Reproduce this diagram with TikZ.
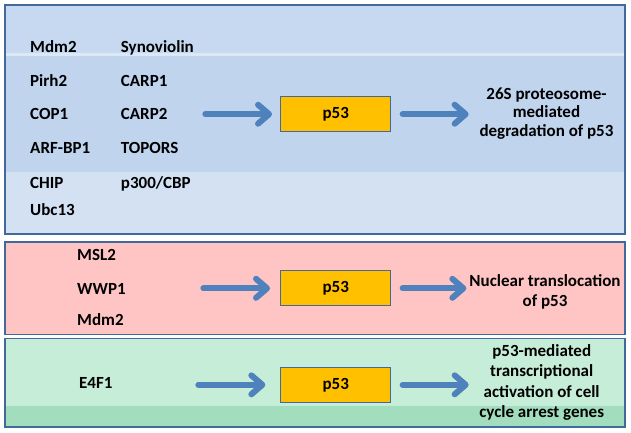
\documentclass[tikz,border=0pt]{standalone}
\usepackage{fontspec}
\setmainfont{Carlito}
\usetikzlibrary{arrows.meta}
\definecolor{frame}{HTML}{41699C}
\definecolor{arrowblue}{HTML}{4F81BD}
\definecolor{boxgold}{HTML}{FFC000}
\definecolor{blueA}{HTML}{C6D9F1}
\definecolor{blueB}{HTML}{C0D4EE}
\definecolor{blueC}{HTML}{D3E1F3}
\definecolor{blueL}{HTML}{DDE8F6}
\definecolor{pinkA}{HTML}{FFC4C4}
\definecolor{greenA}{HTML}{C6EDD7}
\definecolor{greenB}{HTML}{A2DDBD}

\begin{document}
\begin{tikzpicture}[x=1pt,y=-1pt,
    font=\fontsize{17}{20}\selectfont\bfseries,
    panel/.style={draw=frame,line width=1.5pt},
    pbox/.style={draw=frame,line width=1.3pt,fill=boxgold,minimum width=110pt,minimum height=35pt,inner sep=0pt},
    lbl/.style={anchor=west,inner sep=0pt,text height=11pt,text depth=0pt},
    outcome/.style={align=center,inner sep=0pt},
    arr/.style={draw=arrowblue,line width=6pt,line cap=round,-{Straight Barb[length=11pt,width=19pt,round]}}]
  \useasboundingbox (0,0) rectangle (631,432);

  % degradation panel
  \fill[blueA] (5,5) rectangle (625,53);
  \fill[blueL] (5,53) rectangle (625,55.5);
  \fill[blueB] (5,55.5) rectangle (625,172);
  \fill[blueC] (5,172) rectangle (625,234);
  \draw[panel] (5,5) rectangle (625,234);

  \node[lbl] (mdm)   at (30,46.7)  {Mdm2};
  \node[lbl] (pirh)  at (30,80.7)  {Pirh2};
  \node[lbl] (cop)   at (30,114)   {COP1};
  \node[lbl] (arfbp) at (30,148.3) {ARF-BP1};
  \node[lbl] (chip)  at (30,182.7) {CHIP};
  \node[lbl] (ubc)   at (30,210)   {Ubc13};
  \node[lbl] (syn)   at (120.7,46.7)  {Synoviolin};
  \node[lbl] (carpa) at (120.7,80.7)  {CARP1};
  \node[lbl] (carpb) at (120.7,114)   {CARP2};
  \node[lbl] (topo)  at (120.7,148.3) {TOPORS};
  \node[lbl] (cbp)   at (120.7,182.7) {p300/CBP};

  \node[pbox] (pdeg) at (335.7,114.2) {p53};
  \node[outcome,font=\fontsize{17}{18.5}\selectfont\bfseries] (deg) at (546.5,113.5)
    {26S proteosome-\\mediated\\degradation of p53};
  \draw[arr] ([xshift=-74.7pt]pdeg.west) -- ([xshift=-8pt]pdeg.west);
  \draw[arr] ([xshift=11.3pt]pdeg.east) -- ([xshift=77.3pt]pdeg.east);

  % translocation panel
  \fill[pinkA] (5,242) rectangle (625,334.5);
  \draw[panel] (5,242) rectangle (625,334.5);

  \node[lbl] (msl)  at (77,255) {MSL2};
  \node[lbl] (wwp)  at (77,289) {WWP1};
  \node[lbl] (mdmb) at (77,320) {Mdm2};

  \node[pbox] (ptrans) at (335.7,288.3) {p53};
  \node[outcome] (trans) at (545,292) {Nuclear translocation\\of p53};
  \draw[arr] ([xshift=-76.7pt]ptrans.west) -- ([xshift=-10pt]ptrans.west);
  \draw[arr] ([xshift=11.3pt]ptrans.east) -- ([xshift=75pt]ptrans.east);

  % activation panel
  \fill[greenA] (5,338.5) rectangle (625,406);
  \fill[greenB] (5,406) rectangle (625,427);
  \draw[panel] (5,338.5) rectangle (625,427);

  \node[lbl] (efo) at (79,383.3) {E4F1};

  \node[pbox] (pact) at (335.7,384.8) {p53};
  \node[outcome,font=\fontsize{17}{20.5}\selectfont\bfseries] (act) at (541.7,382.5)
    {p53-mediated\\transcriptional\\activation of cell\\cycle arrest genes};
  \draw[arr] ([xshift=-81.7pt]pact.west) -- ([xshift=-14.7pt]pact.west);
  \draw[arr] ([xshift=11.3pt]pact.east) -- ([xshift=77.3pt]pact.east);
\end{tikzpicture}
\end{document}
